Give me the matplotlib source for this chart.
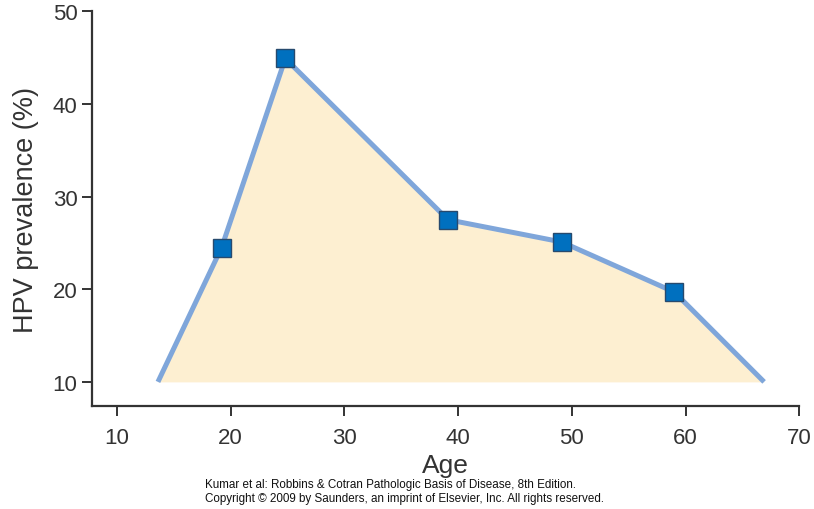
import matplotlib.pyplot as plt

# age vs HPV prevalence
age = [13.6, 19.2, 24.8, 39.1, 49.1, 59.0, 66.9]
prevalence = [10.0, 24.5, 44.9, 27.5, 25.1, 19.7, 10.0]
marker_idx = [1, 2, 3, 4, 5]

xticks = [10, 20, 30, 40, 50, 60, 70]
yticks = [10, 20, 30, 40, 50]

plt.rcParams['font.family'] = ['Liberation Sans', 'DejaVu Sans']

fig = plt.figure(figsize=(8.14, 5.1), dpi=100)
ax = fig.add_axes([0.113, 0.202, 0.869, 0.774])

ax.fill_between(age, prevalence, 10, color='#fdefd1', lw=0, zorder=1)
ax.plot(age, prevalence, color='#7fa6da', lw=3.6, solid_capstyle='butt', zorder=2)
ax.plot([age[i] for i in marker_idx], [prevalence[i] for i in marker_idx],
        ls='none', marker='s', ms=13, mfc='#0070bf', mec='#274a6e', mew=1.0, zorder=3)

ax.set_xlim(7.8, 70)
ax.set_ylim(7.4, 50)
ax.set_xticks(xticks)
ax.set_yticks(yticks)

for s in ['top', 'right']:
    ax.spines[s].set_visible(False)
for s in ['left', 'bottom']:
    ax.spines[s].set_color('#333333')
    ax.spines[s].set_linewidth(1.6)
ax.tick_params(colors='#333333', width=1.4, length=7, labelsize=16, direction='out')
ax.tick_params(axis='x', pad=8)

ax.set_xlabel('Age', fontsize=19, color='#333333', labelpad=4)
ax.set_ylabel('HPV prevalence (%)', fontsize=19.5, color='#333333', labelpad=10)

credit = ('Kumar et al: Robbins & Cotran Pathologic Basis of Disease, 8th Edition.\n'
          'Copyright \u00a9 2009 by Saunders, an imprint of Elsevier, Inc. All rights reserved.')
fig.text(205 / 814, 1 - 479 / 510, credit, fontsize=8.4, ha='left', va='top',
         linespacing=1.2, color='#111111')

fig.savefig('out.png', dpi=100)
